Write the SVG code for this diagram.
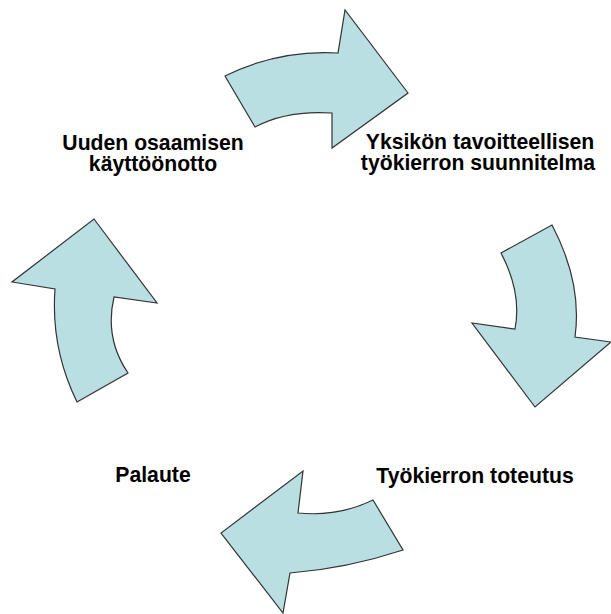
<svg xmlns="http://www.w3.org/2000/svg" width="611" height="614" viewBox="0 0 611 614">
  <style>
    .arrow { fill: #b9dfe2; stroke: #333333; stroke-width: 1.2; stroke-linejoin: miter; }
    .label { font-family: "Liberation Sans", Arial, sans-serif; font-weight: bold; font-size: 21.2px; fill: #000000; text-anchor: middle; }
  </style>
  <rect width="611" height="614" fill="#ffffff"/>
  <g id="connectors">
    <path id="arrow-top" class="arrow" d="M225,76 Q278.5,49.5 338,53 L345,10 L408,93 L332,148 L332,113 Q286.5,110 255,127 Z"/>
    <path id="arrow-right" class="arrow" d="M501,253 L552,225 Q582.5,283 575,337 L611,342 L535,407 L472,323 L515,329 Q522,293 501,253 Z"/>
    <path id="arrow-bottom" class="arrow" d="M373,500 L403,550 Q347,568.5 290,573 L283,613 L221,533 L303,471 L298,513 Q338,517 373,500 Z"/>
    <path id="arrow-left" class="arrow" d="M77,402 L128,373 Q104.4,338.4 114,297 L157,303 L94,219 L12,282 L55,289 Q50.6,348 77,402 Z"/>
  </g>
  <g id="node-plan">
    <text class="label" x="480" y="149">Yksikön tavoitteellisen</text>
    <text class="label" x="478" y="170">työkierron suunnitelma</text>
  </g>
  <g id="node-toteutus">
    <text class="label" x="475" y="483">Työkierron toteutus</text>
  </g>
  <g id="node-palaute">
    <text class="label" x="153" y="482">Palaute</text>
  </g>
  <g id="node-kayttoonotto">
    <text class="label" x="153" y="150">Uuden osaamisen</text>
    <text class="label" x="153" y="171">käyttöönotto</text>
  </g>
</svg>
